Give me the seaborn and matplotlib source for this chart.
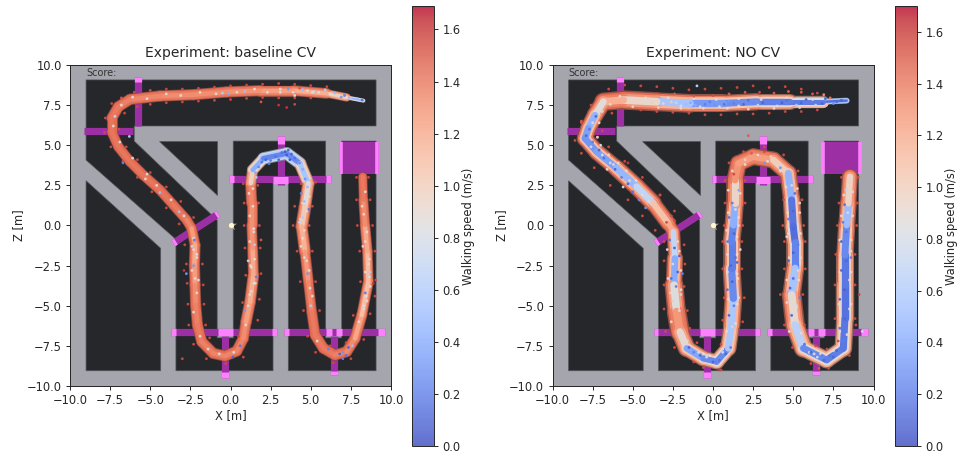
# plot.py
# Walking speed along the track, baseline CV against NO CV
# Values are read by eye from the picture, stations follow the middle of each band

import numpy as np
import matplotlib
matplotlib.use('Agg')
import matplotlib.pyplot as plt
import seaborn as sns
from matplotlib.collections import LineCollection
from matplotlib.cm import ScalarMappable
from matplotlib.colors import Normalize, to_rgb

sns.set_style('ticks', {'axes.grid': False})

# Map of the hall (x, z), same for both experiments
room_outline = [(-9, 9.07), (9.07, 9.07), (9.07, 6.2), (-6, 6.2), (-6, 5.26), (-0.83, 0.33), (-0.83, -7), (0.17, -7),
                (0.17, 5.26), (5.93, 5.26), (5.93, -7), (6.93, -7), (6.93, 5.26), (9.07, 5.26), (9.07, -9.05),
                (3.6, -9.05), (3.6, 3), (2.65, 3), (2.65, -9.05), (-3.4, -9.05), (-3.4, -0.86), (-9, 4.08)]
left_room = [(-9, 2.79), (-4.35, -1.42), (-4.35, -9.05), (-9, -9.05)]
wedge_room = [(-4.44, 5.26), (-0.83, 5.26), (-0.83, 1.9)]
goal_box = [(6.78, 5.18), (9.25, 5.18), (9.25, 3.19), (6.78, 3.19)]
gate_bars = [(-9.1, 5.87, -6.1, 5.87), (-5.78, 9.23, -5.78, 6.2), (-0.09, 2.91, 6.24, 2.91), (3.12, 5.58, 3.12, 2.52),
             (-3.56, -1.1, -0.76, 0.72), (-3.69, -6.66, 2.9, -6.66), (-0.35, -6.9, -0.35, -9.48),
             (3.35, -6.66, 9.63, -6.66), (6.43, -6.9, 6.43, -9.3)]
gate_caps = [(-0.09, 2.91, 0.2, 2.91), (5.95, 2.91, 6.24, 2.91), (3.12, 5.58, 3.12, 5.1), (2.65, 2.85, 3.58, 2.85),
             (-3.69, -6.66, -3.4, -6.66), (2.6, -6.66, 2.9, -6.66), (-0.8, -6.66, 0.15, -6.66), (-0.35, -9.15, -0.35, -9.48),
             (3.35, -6.66, 3.65, -6.66), (9.2, -6.66, 9.63, -6.66), (5.95, -6.66, 6.3, -6.66), (6.55, -6.66, 6.95, -6.66),
             (6.43, -9.05, 6.43, -9.3), (-5.78, 9.23, -5.78, 8.95), (-0.9, 0.63, -0.76, 0.72), (-3.56, -1.1, -3.4, -1.0)]
goal_caps = [(6.88, 5.18, 6.88, 3.19), (9.15, 5.18, 9.15, 3.19)]

# baseline CV, band stations
base_x = [8.28, 7.24, 5.99, 3.92, 1.84, -0.24, -2.31, -4.39, -6.26, -6.99, -7.40, -7.40, -6.99, -6.26, -5.43, -4.39, -3.56,
          -2.73, -2.42, -2.21, -2.25, -2.21, -2.17, -2.06, -1.79, -1.07, -0.34, 0.39, 0.80, 0.97, 1.22, 1.43, 1.38, 1.32,
          1.32, 1.26, 1.38, 2.05, 3.50, 4.33, 4.85, 4.64, 4.44, 4.64, 4.85, 5.06, 5.27, 5.79, 6.51, 7.24, 7.76, 8.18, 8.59,
          8.53, 8.38, 8.28, 8.24]
base_z = [7.78, 7.98, 8.23, 8.40, 8.40, 8.32, 8.15, 8.07, 7.86, 7.40, 6.68, 5.84, 4.91, 3.98, 3.14, 2.21, 1.28,
          0.34, -0.18, -1.22, -2.46, -3.71, -4.95, -6.20, -7.24, -7.97, -8.13, -7.82, -7.03, -6.0, -4.75, -3.09, -1.42, 0.03,
          1.38, 2.63, 3.46, 4.18, 4.49, 3.87, 2.63, 1.17, -0.07, -1.63, -3.50, -5.37, -6.82, -7.65, -8.07, -7.86, -7.03, -5.58, -3.50,
          -1.63, 0.03, 1.59, 3.04]
base_spread = [0.12, 0.4, 0.65, 0.7, 0.7, 0.7, 0.7, 0.7, 0.7, 0.7, 0.7, 0.65, 0.65, 0.65, 0.65, 0.65, 0.65,
               0.65, 0.65, 0.7, 0.7, 0.7, 0.7, 0.7, 0.7, 0.7, 0.7, 0.7, 0.7, 0.7, 0.75, 0.7, 0.65, 0.65,
               0.7, 0.7, 0.7, 0.75, 0.8, 0.8, 0.75, 0.8, 0.8, 0.7, 0.65, 0.65, 0.7, 0.7, 0.7, 0.7, 0.7, 0.7, 0.65,
               0.65, 0.65, 0.6, 0.55]
base_edge = [0.6, 1.2, 1.4, 1.42, 1.42, 1.42, 1.42, 1.42, 1.45, 1.45, 1.45, 1.45, 1.45, 1.45, 1.45, 1.45, 1.45,
             1.45, 1.45, 1.45, 1.45, 1.45, 1.45, 1.45, 1.45, 1.45, 1.45, 1.45, 1.45, 1.42, 1.42, 1.4, 1.42, 1.42,
             1.42, 1.45, 1.2, 0.9, 0.6, 0.9, 1.3, 1.38, 1.38, 1.42, 1.45, 1.45, 1.45, 1.45, 1.45, 1.45, 1.45, 1.42, 1.4,
             1.4, 1.42, 1.45, 1.45]
base_core = [0.2, 0.75, 1.15, 1.2, 1.28, 1.3, 1.32, 1.32, 1.35, 1.38, 1.4, 1.4, 1.4, 1.4, 1.4, 1.4, 1.4,
             1.38, 1.32, 1.2, 1.2, 1.3, 1.35, 1.38, 1.38, 1.35, 1.35, 1.35, 1.35, 1.28, 1.2, 1.15, 1.25, 1.3,
             1.3, 1.38, 0.55, 0.3, 0.15, 0.35, 0.75, 1.0, 1.05, 1.25, 1.28, 1.38, 1.4, 1.38, 1.38, 1.35, 1.3, 1.12, 1.05,
             1.15, 1.25, 1.38, 1.4]
base_fleck_x = [8.2, 7.9, 7.5, 7.1, 6.9, 6.5, 5.9, 5.2, 4.5, 3.6, 3.1, 0.9, -0.1, -0.5, 5.1, 4.3, 4.0,
                1.55, 1.75, 1.6, 1.95, 2.2, 2.5, 2.8, 3.0, 3.2, 3.4, 3.6, 3.8, 4.0, 4.3, 3.5, 3.7, 2.4, 4.5, 4.65, 4.8, 4.4, 4.6, 4.9, 4.5, 4.3,
                1.45, 1.5, 1.1, 1.3, 1.6, 1.45, 1.2, 0.9, 0.6, 0.15, -2.4, -2.1, -2.3, -2.0, -2.75, -2.25,
                4.4, 4.6, 4.8, 4.95, 5.0, 8.5, 8.65, 8.4, 8.3, 8.25, 8.6, 8.7, 6.8, 7.0, 7.2, 7.35, 7.6, 6.1, 7.0,
                -4.4, -6.7, -6.3, -7.2, -5.2, -3.2, -6.8, 3.0, 3.5, 4.0, 1.9, 8.9, 9.0, -3.0, -2.9, 1.9]
base_fleck_z = [7.82, 7.9, 7.92, 8.1, 8.0, 8.25, 8.45, 8.35, 8.45, 8.5, 8.3, 8.35, 8.2, 8.25, 8.3, 8.55, 8.1,
                3.3, 3.65, 3.0, 3.95, 4.1, 4.05, 4.3, 4.1, 4.55, 4.6, 4.7, 4.45, 4.2, 3.9, 4.4, 4.1, 3.85, 3.5, 2.9, 2.4, 2.0, 1.5, 1.0, 0.5, 0.2,
                -0.2, -1.2, -2.2, -2.6, -3.2, -3.6, -4.3, -5.3, -7.5, -8.2, -1.3, -1.8, -2.5, -3.4, -3.0, -0.9,
                -1.3, -2.0, -3.0, -3.9, -5.0, -4.7, -3.2, -4.2, -5.2, -1.3, -2.4, -2.9, -8.0, -8.3, -8.1, -7.6, -7.5, -7.7, -7.9,
                2.05, 3.9, 5.55, 6.8, 3.2, 0.85, 7.95, 7.5, 7.35, 7.55, 7.7, -3.6, -4.4, -8.3, -2.8, -0.9]
base_fleck_speed = [0.15, 0.5, 0.6, 0.2, 0.3, 0.5, 0.6, 0.7, 0.5, 0.3, 0.8, 0.5, 0.4, 0.6, 0.8, 1.5, 0.9,
                    0.4, 0.25, 0.6, 0.15, 0.1, 0.2, 0.15, 0.1, 0.15, 0.05, 0.1, 0.1, 0.15, 0.25, 0.05, 0.05, 0.2, 0.4, 0.3, 0.5, 0.2, 0.5, 0.15, 0.6, 0.7,
                    0.8, 0.6, 0.7, 0.9, 0.2, 0.8, 0.9, 0.3, 0.15, 0.1, 0.7, 0.8, 0.3, 0.8, 0.3, 0.2,
                    0.9, 0.9, 0.3, 0.8, 0.6, 0.8, 0.8, 0.2, 0.8, 0.7, 0.9, 0.6, 0.1, 0.2, 0.15, 0.1, 0.5, 0.2, 0.3,
                    0.5, 0.2, 0.6, 0.7, 0.8, 0.5, 1.5, 1.6, 1.6, 1.55, 1.5, 1.6, 1.55, 1.55, 1.6, 1.5]
# loose red dots on the rim of the baseline band, and pale dots inside it
base_rim = [(6, 8.65), (5, 8.72), (4, 8.8), (3, 8.85), (2, 8.8), (1, 8.75), (0, 8.7), (-1, 8.62), (-2, 8.55), (-3, 8.5), (-4, 8.5),
            (-5, 8.42), (-6, 8.3), (5, 7.95), (4, 7.95), (3, 7.95), (2, 7.98), (1, 7.92), (0, 7.85), (-1, 7.8), (-2, 7.75), (-3, 7.7),
            (-4, 7.65), (-5, 7.55), (-5.8, 7.4), (-7.4, 7.6), (-7.8, 6.7), (-7.85, 5.8), (-7.45, 4.9), (-6.7, 4.0), (-5.8, 3.0), (-4.9, 2.1),
            (-4.0, 1.1), (-3.2, 0.1), (-6.6, 7.0), (-6.95, 6.0), (-6.5, 4.9), (-5.8, 4.1), (-5.0, 3.3), (-4.0, 2.4), (-3.1, 1.5), (-2.3, 0.5),
            (-2.85, -1.2), (-2.75, -2.4), (-2.7, -3.6), (-2.65, -4.9), (-2.6, -6.2), (-2.3, -7.4), (-1.5, -8.3), (-0.3, -8.6), (0.8, -8.2),
            (-1.75, -2.4), (-1.7, -3.7), (-1.65, -4.9), (-1.55, -6.2), (-1.3, -7.0), (0.5, -6.9), (0.75, -4.8), (0.95, -3.1), (0.9, -1.4),
            (1.7, -5.9), (1.8, -4.6), (1.9, -3.0), (1.85, -1.4), (1.8, 0.0), (1.75, 1.4), (0.85, 0.0), (0.85, 1.4), (0.8, 2.6),
            (1.7, 2.5), (4.0, 1.2), (5.1, 1.2), (5.3, 2.7), (4.4, 2.6), (3.9, 0.0), (4.9, 0.0), (4.15, -1.6), (5.1, -1.6), (4.35, -3.5),
            (5.3, -3.5), (4.55, -5.3), (5.55, -5.3), (4.8, -6.9), (5.3, -7.9), (6.4, -8.55), (7.5, -8.3), (8.3, -7.1), (6.2, -7.5),
            (7.2, -7.3), (7.65, -5.6), (8.7, -5.5), (8.1, -3.5), (9.05, -3.4), (8.05, -1.6), (9.0, -1.6), (7.9, 0.0), (8.85, 0.0),
            (7.85, 1.6), (8.7, 1.6), (7.85, 3.0), (8.6, 3.0)]
base_pale = [(5.5, 8.3), (4.8, 8.4), (3.9, 8.3), (3.1, 8.5), (2.3, 8.3), (1.5, 8.5), (0.4, 8.3), (-0.9, 8.2), (-1.9, 8.3), (-3.1, 8.1), (-4.0, 8.2),
             (-5.2, 7.9), (-6.1, 8.0), (-6.8, 7.5), (-7.3, 6.2), (-6.9, 5.2), (-6.1, 4.2), (-5.3, 2.9), (-4.6, 2.5), (-3.7, 1.6), (-2.9, 0.6),
             (-2.3, -0.8), (-2.3, -1.5), (-2.1, -2.0), (-2.4, -2.8), (-2.2, -3.3), (-2.1, -4.2), (-2.3, -5.4), (-1.9, -6.9), (-1.4, -7.7),
             (-0.7, -8.0), (0.2, -7.9), (0.95, -6.2), (1.1, -5.0), (1.3, -4.1), (1.55, -3.6), (1.25, -2.5), (1.5, -2.1), (1.2, -1.0), (1.45, -0.4),
             (1.2, 0.6), (1.4, 1.2), (1.15, 2.0), (1.4, 2.3), (4.7, 2.2), (4.9, 1.8), (4.5, 1.4), (4.75, 0.9), (4.35, 0.4), (4.6, -0.3), (4.5, -0.8),
             (4.75, -2.2), (4.9, -2.8), (5.1, -4.4), (5.4, -7.2), (8.0, -6.0), (8.3, -5.0), (8.45, -4.4), (8.7, -3.8), (8.4, -2.9), (8.65, -2.1),
             (8.4, -1.0), (8.5, -0.4), (8.3, 0.7), (8.2, 1.2), (8.4, 2.1)]

# NO CV, band stations
nocv_x = [8.33, 6.87, 4.80, 2.72, 0.64, -1.43, -3.51, -5.59, -6.83, -7.35, -7.77, -7.98, -7.25, -6.0, -4.76, -3.72, -2.78,
          -2.47, -2.37, -2.43, -2.27, -2.06, -1.64, -0.60, 0.23, 0.95, 1.16, 1.27, 1.16, 1.16, 1.27,
          1.37, 1.37, 1.58, 2.51, 3.76, 4.69, 4.90, 5.0, 5.11, 5.11, 4.90, 5.11, 5.63, 7.08, 8.12, 8.22, 8.22, 8.22, 8.33, 8.43, 8.53]
nocv_z = [7.78, 7.71, 7.71, 7.71, 7.61, 7.61, 7.71, 7.82, 7.71, 6.88, 6.05, 5.43, 4.60, 3.56, 2.42, 1.38, 0.13,
          -0.39, -2.05, -3.71, -5.37, -6.62, -7.65, -8.28, -8.49, -7.65, -6.2, -4.54, -2.67, -1.01, 0.03,
          1.38, 2.83, 3.87, 4.29, 4.08, 3.25, 1.59, -0.07, -1.01, -2.67, -4.33, -6.2, -7.65, -8.38, -7.65, -5.79, -3.71, -1.84, 0.03, 1.38, 3.04]
nocv_spread = [0.15, 0.6, 0.95, 1.05, 1.1, 1.15, 1.2, 1.2, 1.1, 1.0, 1.05, 1.0, 1.0, 1.05, 1.1, 1.05, 0.9,
               0.75, 0.95, 1.1, 1.25, 1.2, 1.0, 1.0, 0.9, 1.0, 1.05, 1.15, 1.1, 1.1, 1.1,
               1.1, 1.1, 1.0, 1.05, 1.05, 1.05, 1.1, 1.1, 1.1, 1.1, 1.2, 1.25, 1.1, 1.0, 1.05, 1.15, 1.15, 1.1, 1.05, 1.05, 0.95]
nocv_edge = [0.3, 1.0, 1.2, 1.35, 1.4, 1.4, 1.42, 1.45, 1.45, 1.42, 1.42, 1.42, 1.42, 1.42, 1.42, 1.45, 1.45,
             1.45, 1.4, 1.42, 1.42, 1.45, 1.3, 1.35, 1.2, 1.2, 1.35, 1.4, 1.4, 1.4, 1.4,
             1.42, 1.42, 1.45, 1.42, 1.42, 1.42, 1.4, 1.3, 1.25, 1.35, 1.42, 1.42, 1.25, 1.2, 1.2, 1.25, 1.25, 1.3, 1.4, 1.42, 1.42]
nocv_core = [0.1, 0.18, 0.2, 0.22, 0.3, 0.35, 0.75, 1.1, 1.25, 0.5, 0.4, 0.3, 0.3, 0.4, 0.55, 0.85, 1.3,
             1.1, 0.3, 0.5, 1.2, 1.35, 0.45, 0.3, 0.2, 0.3, 0.85, 0.3, 0.2, 0.2, 0.25,
             0.6, 1.3, 1.3, 1.2, 1.3, 0.7, 0.2, 0.12, 0.15, 0.3, 0.8, 1.0, 0.3, 0.2, 0.2, 0.15, 0.15, 0.2, 0.3, 0.7, 1.2]
nocv_fleck_x = [8.0, 7.5, 7.0, 6.4, 5.8, 5.2, 4.6, 4.0, 3.4, 2.8, 2.2, 1.6, 1.0, 0.4, -0.2, -0.8, -1.4, -2.0, -2.6,
                7.7, 6.8, 6.1, 5.5, 4.9, 4.3, 3.7, 3.1, 2.5, 1.9, 1.3, 0.7, 0.1, -0.5, -1.1, -1.7, -2.3, -3.1, -3.8,
                6.2, 5.5, 4.7, 3.8, 2.9, 2.0, 1.0, 0.0, -1.2, -2.4, 6.9, 7.3,
                -7.3, -7.7, -7.9, -7.5, -7.1, -6.8, -6.4, -6.1, -5.7, -5.3, -5.0, -4.6, -4.2, -6.5, -5.9, -5.4, -4.8, -7.0,
                -2.7, -2.4, -2.1, -2.5, -2.2, -2.6, -2.3, -2.0, -2.5, -2.2, -1.9,
                -1.5, -1.2, -0.8, -0.4, 0.0, 0.4, 0.8, 1.1, 0.6, 0.2, -0.6,
                1.0, 1.3, 1.6, 0.9, 1.2, 1.5, 1.1, 1.4, 1.7, 0.9, 1.3, 1.6, 1.0, 1.4, 1.2, 1.5,
                4.9, 5.2, 5.4, 4.8, 5.0, 5.3, 4.7, 5.0, 5.3, 4.6, 5.0, 4.7, 5.0, 5.4, 5.1, 4.9,
                5.7, 6.1, 6.5, 6.9, 7.3, 7.7, 8.1, 6.3, 6.8, 7.5,
                7.9, 8.2, 8.5, 7.9, 8.2, 8.5, 8.0, 8.3, 8.6, 8.0, 8.3, 8.1, 8.4, 8.2, 8.5, 8.3, 8.5, 8.6,
                2.0, 2.8, 3.6, 4.2, 2.4, 3.2, 1.3, 1.6, 1.2, 8.9, 9.3, 9.1, -8.2, -5.3, -3.3, 2.2, 6.6, 0.4, 3.2, -1.0]
nocv_fleck_z = [7.8, 7.6, 7.9, 7.5, 7.85, 7.5, 7.8, 7.45, 7.8, 7.5, 7.8, 7.45, 7.75, 7.4, 7.7, 7.4, 7.65, 7.45, 7.7,
                7.7, 7.6, 7.7, 7.65, 7.6, 7.65, 7.6, 7.65, 7.6, 7.55, 7.6, 7.55, 7.5, 7.55, 7.5, 7.55, 7.65, 7.6, 7.65,
                8.2, 8.3, 8.35, 8.25, 8.3, 8.3, 8.2, 8.1, 8.05, 8.2, 8.15, 7.95,
                6.8, 6.0, 5.6, 5.2, 4.7, 4.2, 3.9, 3.5, 3.0, 2.6, 2.1, 1.6, 1.1, 4.4, 3.9, 3.4, 2.8, 5.0,
                -0.9, -1.4, -1.9, -2.4, -2.9, -3.3, -3.8, -4.3, -4.7, -1.0, -3.0,
                -7.6, -7.9, -8.1, -8.2, -8.5, -8.4, -8.0, -7.6, -7.9, -8.5, -8.0,
                -5.6, -5.0, -4.5, -4.0, -3.5, -3.0, -2.5, -2.0, -1.5, -1.0, -0.5, 0.0, 0.5, 1.0, -6.3, -2.3,
                -5.6, -5.0, -4.5, -3.9, -3.3, -2.8, -2.2, -1.7, -1.2, -0.7, -0.2, 0.4, 0.9, 1.4, 2.0, 2.5,
                -7.4, -7.9, -8.2, -8.4, -8.1, -7.8, -7.2, -8.0, -8.1, -8.2,
                -6.4, -5.8, -5.2, -4.6, -4.0, -3.4, -2.8, -2.2, -1.6, -1.0, -0.4, 0.2, 0.8, 1.3, 1.8, 2.2, 2.7, -2.0,
                4.1, 4.4, 4.3, 3.6, 4.5, 4.6, 3.2, 2.2, 1.4, -6.2, -6.6, -4.3, 6.5, 3.9, 1.9, 5.6, -8.9, -9.0, 3.9, 8.7]
nocv_fleck_speed = [0.1, 0.3, 0.1, 0.7, 0.1, 0.6, 0.15, 0.8, 0.2, 0.7, 0.15, 0.9, 0.3, 0.8, 0.2, 0.9, 0.4, 0.8, 1.0,
                    0.15, 0.1, 0.2, 0.1, 0.2, 0.08, 0.2, 0.1, 0.25, 0.1, 0.2, 0.15, 0.3, 0.2, 0.4, 0.5, 0.7, 0.9, 1.0,
                    1.5, 1.5, 1.45, 1.5, 1.55, 1.5, 1.5, 1.55, 1.5, 1.5, 1.3, 1.4,
                    0.1, 0.15, 0.1, 0.2, 0.1, 0.15, 0.8, 0.1, 0.2, 0.1, 0.15, 0.25, 0.3, 0.9, 0.8, 0.9, 0.8, 0.8,
                    0.15, 0.1, 0.1, 0.8, 0.1, 0.15, 0.2, 0.7, 1.0, 0.9, 0.2,
                    0.1, 0.2, 0.1, 0.8, 0.1, 0.15, 0.1, 0.2, 0.9, 0.2, 0.9,
                    0.1, 0.2, 0.8, 0.15, 0.08, 0.8, 0.1, 0.15, 0.9, 0.2, 0.1, 0.8, 0.15, 0.9, 1.0, 0.1,
                    0.1, 0.8, 0.2, 0.1, 0.12, 0.9, 0.1, 0.08, 0.2, 0.8, 0.1, 0.2, 0.1, 0.9, 0.15, 0.8,
                    0.15, 0.1, 0.8, 0.1, 0.15, 0.1, 0.2, 0.9, 0.2, 0.1,
                    0.15, 0.1, 0.8, 0.1, 0.08, 0.9, 0.12, 0.1, 0.8, 0.1, 0.15, 0.2, 0.8, 0.15, 0.9, 0.7, 1.0, 0.2,
                    1.0, 0.9, 1.0, 0.3, 1.5, 1.55, 1.55, 0.4, 0.2, 1.55, 0.8, 1.6, 1.5, 1.6, 1.55, 1.5, 1.5, 1.6, 0.3, 0.7]
# loose red dots on the rim of the NO CV band, and pale dots inside it
nocv_rim = [(6.5, 8.25), (5.5, 8.5), (4.5, 8.65), (3.5, 8.6), (2.5, 8.7), (1.5, 8.6), (0.5, 8.55), (-0.5, 8.5), (-1.5, 8.45), (-2.5, 8.55), (-3.5, 8.65),
            (-4.5, 8.7), (-5.5, 8.75), (-6.5, 8.5), (6.5, 7.2), (5.5, 7.1), (4.5, 7.1), (3.5, 7.0), (2.5, 6.95), (1.5, 6.95), (0.5, 6.9), (-0.5, 6.9),
            (-1.5, 7.0), (-2.5, 7.05), (-3.5, 7.1), (-4.5, 7.2), (-7.6, 7.5), (-8.2, 6.4), (-8.6, 5.3), (-8.2, 4.5), (-7.4, 3.6), (-6.4, 2.5), (-5.3, 1.6),
            (-4.4, 0.6), (-3.6, -0.3), (-6.3, 7.0), (-6.9, 5.9), (-7.2, 5.5), (-6.5, 4.9), (-5.5, 4.0), (-4.4, 3.0), (-3.3, 1.9), (-2.4, 0.9),
            (-3.05, -1.0), (-3.05, -2.2), (-3.05, -3.7), (-3.05, -5.2), (-2.95, -6.6), (-2.4, -7.6), (-1.2, -8.5), (-0.6, -8.85), (0.5, -9.0),
            (-1.8, -1.2), (-1.75, -2.4), (-1.8, -3.8), (-1.6, -5.3), (-1.45, -6.4), (-1.0, -7.3), (0.5, -7.4), (0.6, -5.9), (0.7, -4.5),
            (1.85, -6.0), (1.95, -4.5), (1.8, -2.7), (1.8, -1.0), (1.85, 0.0), (0.6, -2.7), (0.6, -1.0), (0.7, 0.0), (0.75, 1.4), (0.75, 2.8),
            (2.0, 1.4), (2.0, 2.8), (1.0, 3.9), (1.9, 4.6), (3.2, 4.9), (4.4, 4.4), (5.3, 3.4), (5.55, 1.6), (5.65, 0.0), (5.75, -1.0), (5.75, -2.7),
            (5.6, -4.3), (5.7, -6.2), (6.4, -7.5), (7.1, -7.7), (7.8, -7.2), (4.4, 1.6), (4.35, 0.0), (4.45, -1.0), (4.45, -2.7), (4.2, -4.3), (4.45, -6.2),
            (4.95, -7.6), (6.1, -8.6), (7.2, -8.9), (8.5, -8.1), (7.6, -5.8), (8.85, -5.8), (7.6, -3.7), (8.85, -3.7), (7.65, -1.8), (8.85, -1.8),
            (7.75, 0.0), (8.95, 0.0), (7.85, 1.4), (9.0, 1.4), (8.0, 3.0), (9.05, 3.0), (-2.6, 0.6), (-2.9, 0.2), (-2.4, 0.3)]
nocv_pale = [(6.2, 7.85), (5.4, 7.35), (4.6, 7.95), (3.8, 7.3), (3.0, 7.85), (2.2, 7.25), (1.6, 7.9), (0.9, 7.3), (0.2, 7.85), (-0.6, 7.3),
             (-1.2, 7.9), (-2.0, 7.3), (-2.8, 7.95), (-3.4, 7.35), (-4.2, 7.95), (-5.0, 7.4), (-5.8, 8.05), (-6.4, 7.55), (-6.9, 7.1),
             (-7.1, 6.4), (-7.5, 6.4), (-7.2, 5.5), (-7.6, 4.9), (-6.9, 4.4), (-6.2, 3.8), (-6.6, 3.5), (-5.2, 2.8), (-5.6, 2.4), (-4.4, 1.9), (-4.0, 1.5),
             (-2.85, -1.5), (-2.1, -1.6), (-2.8, -3.3), (-2.0, -2.8), (-2.65, -4.2), (-2.0, -4.0), (-2.1, -5.3), (-2.6, -6.0), (-1.6, -7.2), (-0.9, -7.9),
             (-0.2, -8.1), (0.6, -7.7), (0.85, -6.6), (1.4, -6.1), (1.5, -4.9), (0.95, -4.6), (1.55, -3.3), (0.9, -2.9), (1.5, -1.8), (0.9, -1.8),
             (1.5, -0.7), (0.85, -0.3), (1.6, 0.5), (0.95, 0.8), (1.7, 2.0), (0.95, 2.2), (1.2, 3.4), (2.0, 3.8), (3.4, 4.0), (4.2, 3.4), (4.55, 2.4),
             (5.25, 2.3), (4.65, 0.8), (5.4, 0.8), (4.7, -0.5), (5.45, -0.5), (4.75, -2.0), (5.45, -2.0), (4.6, -3.4), (5.35, -3.4), (4.6, -4.8),
             (5.2, -5.1), (4.75, -6.6), (5.5, -6.7), (6.0, -7.9), (6.7, -8.0), (7.5, -7.8), (8.35, -6.8), (7.9, -6.6), (7.85, -4.9), (8.6, -4.9), (7.9, -2.9),
             (8.6, -2.9), (7.9, -0.9), (8.6, -0.9), (8.0, 0.6), (8.7, 0.6), (8.15, 1.9), (8.7, 2.1)]

experiments = ['baseline CV', 'NO CV']
color_tops = [1.69, 1.70]
speed_ticks = [0.0, 0.2, 0.4, 0.6, 0.8, 1.0, 1.2, 1.4, 1.6]
axis_ticks = [-10.0, -7.5, -5.0, -2.5, 0.0, 2.5, 5.0, 7.5, 10.0]
rim_speed = 1.55
pale_speed = 0.9

floor_color = '#a5a5ae'
dark_color = '#26272b'
gate_color = '#9b2fa3'
cap_color = '#ff80ff'
speed_cmap = sns.color_palette('coolwarm', as_cmap=True)


def draw_map(ax):
    ax.set_facecolor(floor_color)
    for shape in [room_outline, left_room, wedge_room]:
        ax.fill(*zip(*shape), facecolor=dark_color, edgecolor='#55565c', linewidth=0.5, zorder=1)
    ax.fill(*zip(*goal_box), facecolor=gate_color, edgecolor='none', zorder=2)
    for x0, z0, x1, z1 in gate_bars:
        ax.plot([x0, x1], [z0, z1], color=gate_color, lw=5.2, solid_capstyle='butt', zorder=2)
    for x0, z0, x1, z1 in gate_caps:
        ax.plot([x0, x1], [z0, z1], color=cap_color, lw=5.2, solid_capstyle='butt', zorder=2)
    for x0, z0, x1, z1 in goal_caps:
        ax.plot([x0, x1], [z0, z1], color=cap_color, lw=2.6, solid_capstyle='butt', zorder=2)
    ax.text(-9, 9.3, 'Score:', fontsize=7, color='#333333', zorder=2)
    ax.scatter([0], [0], marker='*', s=70, color='#b0a88a', linewidth=0, zorder=2)
    ax.scatter([0], [0], s=14, color='#fff8d8', linewidth=0, zorder=2)


def draw_band(ax, xs, zs, widths, speeds, norm, scale, fade=0.0):
    points = np.column_stack([xs, zs])
    segments = np.stack([points[:-1], points[1:]], axis=1)
    seg_speed = (np.array(speeds[:-1]) + np.array(speeds[1:])) / 2
    seg_width = (np.array(widths[:-1]) + np.array(widths[1:])) / 2 * 11.56 * scale
    colors = speed_cmap(norm(seg_speed))[:, :3] * (1 - fade) + np.array(to_rgb(dark_color)) * fade
    ax.add_collection(LineCollection(segments, colors=colors, linewidths=seg_width, capstyle='round', zorder=3))


def draw_dots(ax, xs, zs, speeds, norm, size):
    sns.scatterplot(x=xs, y=zs, hue=speeds, palette=speed_cmap, hue_norm=norm, s=size, alpha=0.95,
                    linewidth=0, legend=False, ax=ax, zorder=4)


tracks = [
    (base_x, base_z, base_spread, base_edge, base_core, base_fleck_x, base_fleck_z, base_fleck_speed, base_rim, base_pale),
    (nocv_x, nocv_z, nocv_spread, nocv_edge, nocv_core, nocv_fleck_x, nocv_fleck_z, nocv_fleck_speed, nocv_rim, nocv_pale),
]
axes_left = [70, 552.5]
bar_left = [412, 895]

fig = plt.figure(figsize=(9.57, 4.55), dpi=100)
plt.rcParams['font.family'] = ['DejaVu Sans']

for i, track in enumerate(tracks):
    xs, zs, spread, edge, core, fleck_x, fleck_z, fleck_speed, rim, pale = track
    norm = Normalize(0, color_tops[i])
    ax = fig.add_axes([axes_left[i] / 957, 1 - 386 / 455, 321 / 957, 321 / 455])
    draw_map(ax)
    # soft fringe, body, then the slower middle of the band
    mid = np.array(edge) * 0.7 + np.array(core) * 0.3
    draw_band(ax, xs, zs, spread, edge, norm, 1.0, fade=0.45)
    draw_band(ax, xs, zs, spread, edge, norm, 0.85)
    draw_band(ax, xs, zs, spread, mid, norm, 0.65)
    draw_band(ax, xs, zs, spread, core, norm, 0.4)
    rim_x, rim_z = zip(*rim)
    draw_dots(ax, rim_x, rim_z, [rim_speed] * len(rim), norm, 4)
    pale_x, pale_z = zip(*pale)
    draw_dots(ax, pale_x, pale_z, [pale_speed] * len(pale), norm, 4)
    draw_dots(ax, fleck_x, fleck_z, fleck_speed, norm, 4)
    ax.set_xlim(-10, 10)
    ax.set_ylim(-10, 10)
    ax.set_xticks(axis_ticks)
    ax.set_yticks(axis_ticks)
    ax.tick_params(labelsize=8.3, length=3, width=0.7, direction='out', bottom=True, left=True, pad=3)
    ax.set_title(f'Experiment: {experiments[i]}', fontsize=10, pad=6)
    ax.set_xlabel('X [m]', fontsize=8.3, labelpad=1)
    ax.set_ylabel('Z [m]', fontsize=8.3, labelpad=1)
    for spine in ax.spines.values():
        spine.set_color('#222222')
        spine.set_linewidth(0.7)

    # Colorbar
    cax = fig.add_axes([bar_left[i] / 957, 1 - 446 / 455, 22 / 957, 440 / 455])
    mappable = ScalarMappable(norm=norm, cmap=speed_cmap)
    cbar = fig.colorbar(mappable, cax=cax, alpha=0.8)
    cbar.set_ticks(speed_ticks)
    cbar.ax.tick_params(labelsize=8.3, length=3, width=0.7, right=True, pad=3)
    cbar.outline.set_linewidth(0.7)
    cbar.set_label('Walking speed (m/s)', fontsize=8.3, labelpad=1)

plt.savefig('out.png', dpi=100)
